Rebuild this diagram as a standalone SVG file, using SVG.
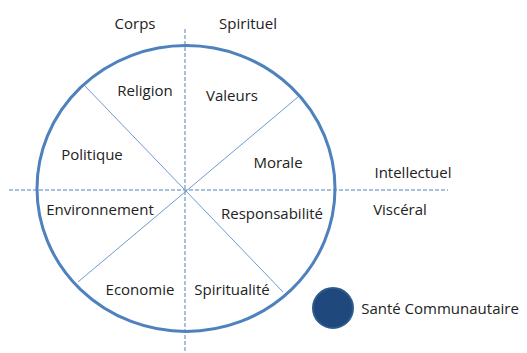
<svg xmlns="http://www.w3.org/2000/svg" width="527" height="353" viewBox="0 0 527 353">
<style>
text{font-family:"Open Sans","Liberation Sans",sans-serif;font-size:15px;fill:#222;text-anchor:middle}
.dash{stroke:#4f81bd;stroke-width:1;stroke-dasharray:4 2;fill:none}
.div{stroke:#6f99cf;stroke-width:1;fill:none}
</style>
<rect width="527" height="353" fill="#fff"/>
<g id="connectors">
<line class="dash" x1="185" y1="29" x2="185" y2="352"/>
<line class="dash" x1="9" y1="190" x2="448" y2="190"/>
<line class="div" x1="85" y1="86" x2="283" y2="292"/>
<line class="div" x1="298" y1="97" x2="78" y2="282"/>
</g>
<g id="wheel"><ellipse cx="186" cy="188.5" rx="149" ry="143" fill="none" stroke="#4f81bd" stroke-width="3"/></g>
<g id="corps"><text x="135" y="29">Corps</text></g>
<g id="spirituel"><text x="248" y="29">Spirituel</text></g>
<g id="religion"><text x="145" y="96">Religion</text></g>
<g id="valeurs"><text x="232" y="101">Valeurs</text></g>
<g id="politique"><text x="92" y="160">Politique</text></g>
<g id="morale"><text x="278" y="168">Morale</text></g>
<g id="intellectuel"><text x="413" y="178">Intellectuel</text></g>
<g id="environnement"><text x="100" y="215">Environnement</text></g>
<g id="responsabilite"><text x="272" y="219">Responsabilité</text></g>
<g id="visceral"><text x="400" y="215">Viscéral</text></g>
<g id="economie"><text x="140" y="295">Economie</text></g>
<g id="spiritualite"><text x="232" y="295">Spiritualité</text></g>
<g id="sante"><circle cx="333" cy="308" r="20" fill="#1f497d" stroke="#2e5a8e" stroke-width="2"/><text x="440" y="314">Santé Communautaire</text></g>
</svg>
